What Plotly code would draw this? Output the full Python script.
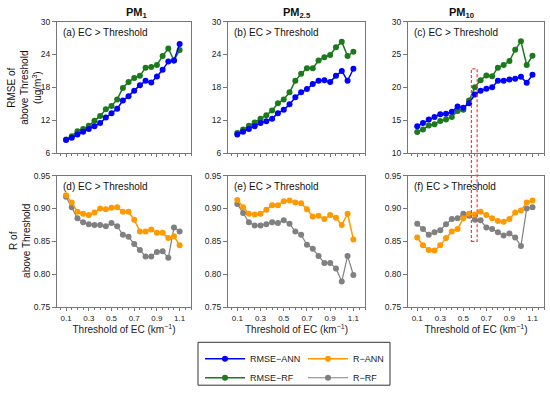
import plotly.graph_objects as go

# ---------------- data ----------------
thresholds = [0.10, 0.15, 0.20, 0.25, 0.30, 0.35, 0.40, 0.45, 0.50, 0.55, 0.60,
              0.65, 0.70, 0.75, 0.80, 0.85, 0.90, 0.95, 1.00, 1.05, 1.10]

pm_titles = ["PM<sub>1</sub>", "PM<sub>2.5</sub>", "PM<sub>10</sub>"]
panel_labels_top = ["(a) EC > Threshold", "(b) EC > Threshold", "(c) EC > Threshold"]
panel_labels_bot = ["(d) EC > Threshold", "(e) EC > Threshold", "(f) EC > Threshold"]

rmse_ann_pm1 = [8.4, 8.8, 9.4, 9.9, 10.4, 10.9, 11.5, 12.5, 13.3, 14.1, 15.6,
                16.4, 17.4, 18.4, 19.2, 18.9, 20.0, 21.2, 22.7, 22.9, 25.9]
rmse_rf_pm1 = [8.5, 9.1, 10.0, 10.4, 11.0, 11.9, 12.8, 14.0, 14.6, 15.8, 17.9,
               19.0, 19.7, 20.1, 21.6, 21.7, 22.1, 23.7, 25.1, 22.9, 24.8]
rmse_ann_pm25 = [9.4, 9.9, 10.4, 10.9, 11.5, 11.8, 12.3, 13.3, 13.9, 14.9, 16.2,
                 17.1, 17.7, 18.6, 19.2, 19.3, 19.0, 20.1, 21.0, 19.2, 21.4]
rmse_rf_pm25 = [9.7, 10.3, 11.0, 11.6, 12.3, 12.9, 13.8, 15.1, 15.8, 17.1, 19.2,
                20.5, 21.5, 21.5, 22.9, 23.5, 23.9, 25.3, 26.3, 23.7, 24.5]
rmse_ann_pm10 = [14.1, 14.6, 15.1, 15.5, 15.9, 16.0, 16.3, 17.1, 16.9, 17.6, 18.9,
                 19.5, 19.8, 20.0, 21.0, 21.0, 21.2, 21.3, 21.6, 20.7, 21.9]
rmse_rf_pm10 = [13.2, 13.6, 14.2, 14.4, 14.9, 15.1, 15.5, 16.4, 16.6, 18.0, 20.0,
                21.1, 21.8, 21.7, 23.0, 23.4, 24.0, 25.7, 27.0, 23.4, 24.8]

r_ann_pm1 = [0.920, 0.909, 0.895, 0.892, 0.890, 0.894, 0.900, 0.899, 0.901, 0.902, 0.895,
             0.895, 0.883, 0.865, 0.865, 0.868, 0.863, 0.863, 0.855, 0.858, 0.844]
r_rf_pm1 = [0.918, 0.902, 0.885, 0.879, 0.876, 0.875, 0.875, 0.873, 0.878, 0.873, 0.860,
            0.857, 0.846, 0.837, 0.827, 0.827, 0.834, 0.835, 0.825, 0.871, 0.865]
r_ann_pm25 = [0.913, 0.902, 0.892, 0.891, 0.892, 0.898, 0.905, 0.905, 0.911, 0.912, 0.909,
              0.908, 0.899, 0.888, 0.889, 0.884, 0.890, 0.886, 0.875, 0.892, 0.853]
r_rf_pm25 = [0.907, 0.893, 0.879, 0.874, 0.874, 0.876, 0.879, 0.878, 0.882, 0.877, 0.865,
             0.860, 0.845, 0.839, 0.828, 0.817, 0.817, 0.809, 0.789, 0.828, 0.799]
r_ann_pm10 = [0.856, 0.844, 0.837, 0.836, 0.844, 0.855, 0.865, 0.869, 0.885, 0.892, 0.891,
              0.895, 0.890, 0.885, 0.881, 0.880, 0.884, 0.894, 0.897, 0.909, 0.912]
r_rf_pm10 = [0.877, 0.869, 0.860, 0.864, 0.867, 0.876, 0.884, 0.885, 0.892, 0.889, 0.883,
             0.882, 0.871, 0.869, 0.864, 0.859, 0.862, 0.856, 0.843, 0.900, 0.902]

# highlighted threshold window (panels c and f)
hl_x0, hl_x1 = 0.57, 0.62
hl_top_rmse = 22.8
hl_bottom_r = 0.85

# ---------------- style ----------------
W, H = 550, 398
FONT = "Liberation Sans, Arial, sans-serif"
C_BLUE = "#0000ff"
C_GREEN = "#1b7a1b"
C_ORANGE = "#ff9900"
C_GRAY = "#808080"
AX_COL = "#777777"

col_px = [(57, 191), (228, 365), (408, 544)]
top_px = (17, 152)
bot_px = (175, 310)

def xd(p):
    return [p[0] / W, p[1] / W]

def yd(p):
    return [1 - p[1] / H, 1 - p[0] / H]

fig = go.Figure()

top_series = [(rmse_ann_pm1, rmse_rf_pm1), (rmse_ann_pm25, rmse_rf_pm25), (rmse_ann_pm10, rmse_rf_pm10)]
bot_series = [(r_ann_pm1, r_rf_pm1), (r_ann_pm25, r_rf_pm25), (r_ann_pm10, r_rf_pm10)]

def add(x, y, name, color, ax, show, legend, width=1.5):
    fig.add_trace(go.Scatter(
        x=x, y=y, name=name, mode="lines+markers",
        line=dict(color=color, width=width),
        marker=dict(color=color, size=6),
        xaxis="x" + ax, yaxis="y" + ax,
        showlegend=show, legend=legend, legendgroup=name,
    ))

for i in range(3):
    ann, rf = top_series[i]
    ax = str(i + 1)
    add(thresholds, rf, "RMSE\u2212RF", C_GREEN, ax, i == 0, "legend")
    add(thresholds, ann, "RMSE\u2212ANN", C_BLUE, ax, i == 0, "legend")
for i in range(3):
    ann, rf = bot_series[i]
    ax = str(i + 4)
    add(thresholds, rf, "R\u2212RF", C_GRAY, ax, i == 0, "legend2", width=1.2)
    add(thresholds, ann, "R\u2212ANN", C_ORANGE, ax, i == 0, "legend2")

layout = dict(
    width=W, height=H,
    margin=dict(l=0, r=0, t=0, b=0),
    paper_bgcolor="white", plot_bgcolor="white",
    font=dict(family=FONT, size=9, color="#222"),
)

xrange = [0.02, 1.2]
for i in range(6):
    ax = i + 1
    col = col_px[i % 3]
    rowp = top_px if i < 3 else bot_px
    xkey = "xaxis" if ax == 1 else f"xaxis{ax}"
    ykey = "yaxis" if ax == 1 else f"yaxis{ax}"
    xa = dict(
        domain=xd(col), anchor=f"y{ax}" if ax > 1 else "y",
        range=xrange, tickmode="array",
        tickvals=[0.1, 0.3, 0.5, 0.7, 0.9, 1.1],
        ticktext=["0.1", "0.3", "0.5", "0.7", "0.9", "1.1"],
        ticks="outside", ticklen=3, tickcolor=AX_COL,
        minor=dict(dtick=0.05, tick0=0.1, ticks="outside", ticklen=2, tickcolor=AX_COL),
        showline=True, linecolor=AX_COL, linewidth=1, mirror=True,
        showgrid=False, zeroline=False,
        showticklabels=(i >= 3), tickfont=dict(size=8),
    )
    if i >= 3:
        xa["title"] = dict(text="Threshold of EC (km<sup>\u22121</sup>)", font=dict(size=10), standoff=4)
    if i < 3:
        if i == 2:
            yr, tv = [10, 30], [10, 15, 20, 25, 30]
        else:
            yr, tv = [6, 30], [6, 12, 18, 24, 30]
        tt = [str(v) for v in tv]
    else:
        yr, tv = [0.75, 0.95], [0.75, 0.80, 0.85, 0.90, 0.95]
        tt = [f"{v:.2f}" for v in tv]
    ya = dict(
        domain=yd(rowp), anchor=f"x{ax}" if ax > 1 else "x",
        range=yr, tickmode="array", tickvals=tv, ticktext=tt,
        ticks="outside", ticklen=4, tickcolor=AX_COL,
        showline=True, linecolor=AX_COL, linewidth=1, mirror=True,
        showgrid=False, zeroline=False, tickfont=dict(size=8.5),
    )
    layout[xkey] = xa
    layout[ykey] = ya

fig.update_layout(**layout)

annotations = []
for i in range(3):
    col = col_px[i]
    cx = (col[0] + col[1]) / 2 / W
    annotations.append(dict(text="<b>" + pm_titles[i] + "</b>", x=cx, y=1 - 8 / H,
                            xref="paper", yref="paper", showarrow=False,
                            font=dict(size=11, color="#111"), yanchor="middle"))
    annotations.append(dict(text=panel_labels_top[i], x=(col[0] + 4) / W, y=1 - 28 / H,
                            xref="paper", yref="paper", xanchor="left", yanchor="middle",
                            showarrow=False, font=dict(size=10, color="#111")))
    annotations.append(dict(text=panel_labels_bot[i], x=(col[0] + 4) / W, y=1 - 186 / H,
                            xref="paper", yref="paper", xanchor="left", yanchor="middle",
                            showarrow=False, font=dict(size=10, color="#111")))

annotations.append(dict(text="RMSE of<br>above Threshold<br>(ug/m<sup>3</sup>)",
                        x=25 / W, y=1 - 85 / H, xref="paper", yref="paper",
                        textangle=-90, showarrow=False, font=dict(size=10, color="#111"),
                        xanchor="center", yanchor="middle"))
annotations.append(dict(text="R of<br>above Threshold",
                        x=20 / W, y=1 - 242 / H, xref="paper", yref="paper",
                        textangle=-90, showarrow=False, font=dict(size=10, color="#111"),
                        xanchor="center", yanchor="middle"))

# highlight rectangle spanning panels c and f
ydom_top = yd(top_px)
ydom_bot = yd(bot_px)
yr_c = [10, 30]
yr_f = [0.75, 0.95]
paper_top = ydom_top[0] + (hl_top_rmse - yr_c[0]) / (yr_c[1] - yr_c[0]) * (ydom_top[1] - ydom_top[0])
paper_bot = ydom_bot[0] + (hl_bottom_r - yr_f[0]) / (yr_f[1] - yr_f[0]) * (ydom_bot[1] - ydom_bot[0])

shapes = [
    dict(type="rect", xref="x3", yref="paper", x0=hl_x0, x1=hl_x1,
         y0=paper_bot, y1=paper_top, line=dict(color="#ff3b3b", width=1.2, dash="3px,2px"),
         fillcolor="rgba(0,0,0,0)"),
    dict(type="rect", xref="paper", yref="paper", x0=198 / W, x1=390 / W,
         y0=1 - 390 / H, y1=1 - 346 / H, line=dict(color="#333", width=1)),
]

fig.update_layout(
    annotations=annotations, shapes=shapes,
    legend=dict(x=200 / W, y=1 - 348 / H, xanchor="left", yanchor="top",
                orientation="v", traceorder="reversed", font=dict(size=9),
                bgcolor="rgba(0,0,0,0)", tracegroupgap=4, itemwidth=40),
    legend2=dict(x=303 / W, y=1 - 348 / H, xanchor="left", yanchor="top",
                 orientation="v", traceorder="reversed", font=dict(size=9),
                 bgcolor="rgba(0,0,0,0)", tracegroupgap=4, itemwidth=40),
)

fig.write_html("out.html", config={"displayModeBar": False},
               post_script="document.body.style.margin='0';document.body.style.overflow='hidden';")
